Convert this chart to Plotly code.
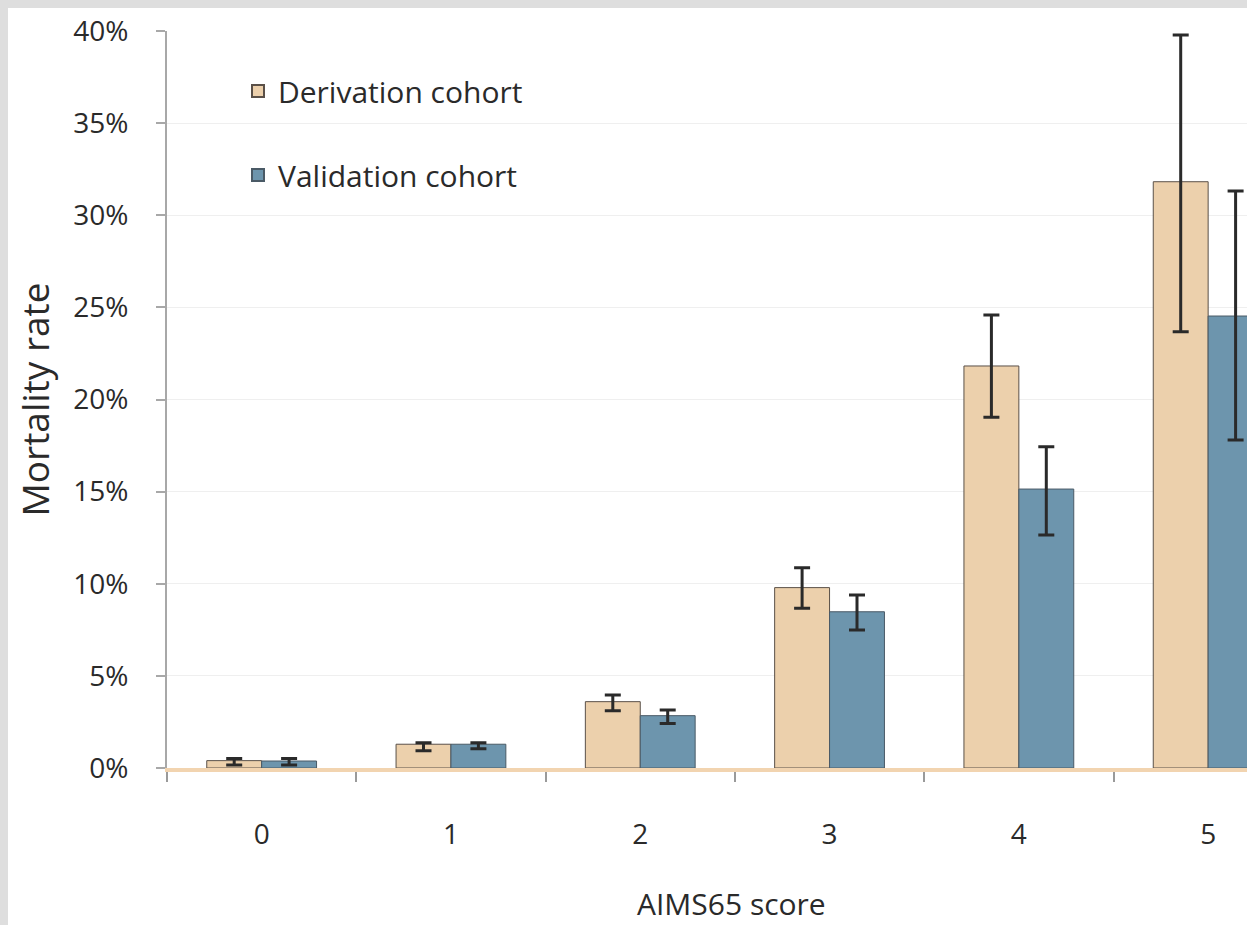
import plotly.graph_objects as go

categories = ["0", "1", "2", "3", "4", "5"]
derivation = [0.40, 1.29, 3.60, 9.79, 21.82, 31.82]
derivation_hi = [0.52, 1.37, 3.96, 10.87, 24.59, 39.78]
derivation_lo = [0.16, 0.94, 3.11, 8.67, 19.03, 23.68]
validation = [0.38, 1.29, 2.84, 8.48, 15.14, 24.53]
validation_hi = [0.52, 1.37, 3.15, 9.39, 17.44, 31.32]
validation_lo = [0.16, 1.05, 2.42, 7.49, 12.65, 17.80]
y_ticks = [0, 5, 10, 15, 20, 25, 30, 35, 40]
y_tick_labels = ["0%", "5%", "10%", "15%", "20%", "25%", "30%", "35%", "40%"]

FONT = "Open Sans"
TXT = "#2a2a2a"
BORDER = "#dedede"

def errs(vals, hi, lo):
    return dict(type="data", symmetric=False,
                array=[h - v for h, v in zip(hi, vals)],
                arrayminus=[v - l for v, l in zip(vals, lo)],
                color="#2a2a2a", thickness=3, width=8)

fig = go.Figure()
fig.add_trace(go.Bar(
    x=categories, y=derivation, name="Derivation cohort", legendgroup="d",
    marker=dict(color="#ecd0ac", line=dict(color="#5a5048", width=1)),
    error_y=errs(derivation, derivation_hi, derivation_lo)))
fig.add_trace(go.Bar(
    x=categories, y=validation, name="Validation cohort", legendgroup="v",
    marker=dict(color="#6d95ad", line=dict(color="#4a5a66", width=1)),
    error_y=errs(validation, validation_hi, validation_lo)))

W, H = 1247, 925
L, T = 167, 31
B = H - 768
pw, ph = W - L, H - T - B
cat_px = 189.3

def px_x(px):
    return (px - L) / pw

def px_y(py):
    return 1 - (py - T) / ph

fig.update_layout(
    width=W, height=H,
    margin=dict(l=L, r=0, t=T, b=B, pad=0),
    paper_bgcolor="white", plot_bgcolor="white",
    barmode="group", bargap=0.42, bargroupgap=0,
    font=dict(family=FONT, color=TXT, size=28),
    showlegend=True,
    legend=dict(x=px_x(238), xanchor="left", y=px_y(65), yanchor="top",
                bgcolor="rgba(0,0,0,0)", font=dict(size=30, family=FONT, color=TXT),
                tracegroupgap=42, itemsizing="constant"),
    xaxis=dict(type="category", range=[-0.5, pw / cat_px - 0.5],
               showline=True, linecolor="#f2d4b0", linewidth=4,
               ticks="outside", tickson="boundaries", ticklen=10, tickcolor="#9a9a9a", tickwidth=1.5,
               ticklabelstandoff=38, tickfont=dict(size=28, family=FONT, color=TXT),
               showgrid=False),
    yaxis=dict(range=[0, 40], tickvals=y_ticks, ticktext=y_tick_labels,
               showline=True, linecolor="#a8a8a8", linewidth=2,
               ticks="outside", ticklen=9, tickcolor="#a8a8a8", tickwidth=1.5,
               ticklabelstandoff=22, tickfont=dict(size=28, family=FONT, color=TXT),
               showgrid=True, gridcolor="#efefef", gridwidth=1, zeroline=False,
               title=dict(text="Mortality rate", font=dict(size=37, family=FONT, color=TXT), standoff=12)),
    annotations=[
        dict(text="AIMS65 score", xref="paper", yref="paper", x=px_x(731), y=px_y(903),
             xanchor="center", yanchor="middle", showarrow=False,
             font=dict(size=30, family=FONT, color=TXT)),
    ],
    shapes=[
        dict(type="rect", xref="paper", yref="paper", x0=px_x(0), x1=px_x(8),
             y0=px_y(H), y1=px_y(0), fillcolor=BORDER, line=dict(width=0), layer="above"),
        dict(type="rect", xref="paper", yref="paper", x0=px_x(0), x1=px_x(W),
             y0=px_y(8), y1=px_y(0), fillcolor=BORDER, line=dict(width=0), layer="above"),
    ],
)

fig.write_html("out.html", config={"displayModeBar": False},
               post_script="document.body.style.margin='0';")
